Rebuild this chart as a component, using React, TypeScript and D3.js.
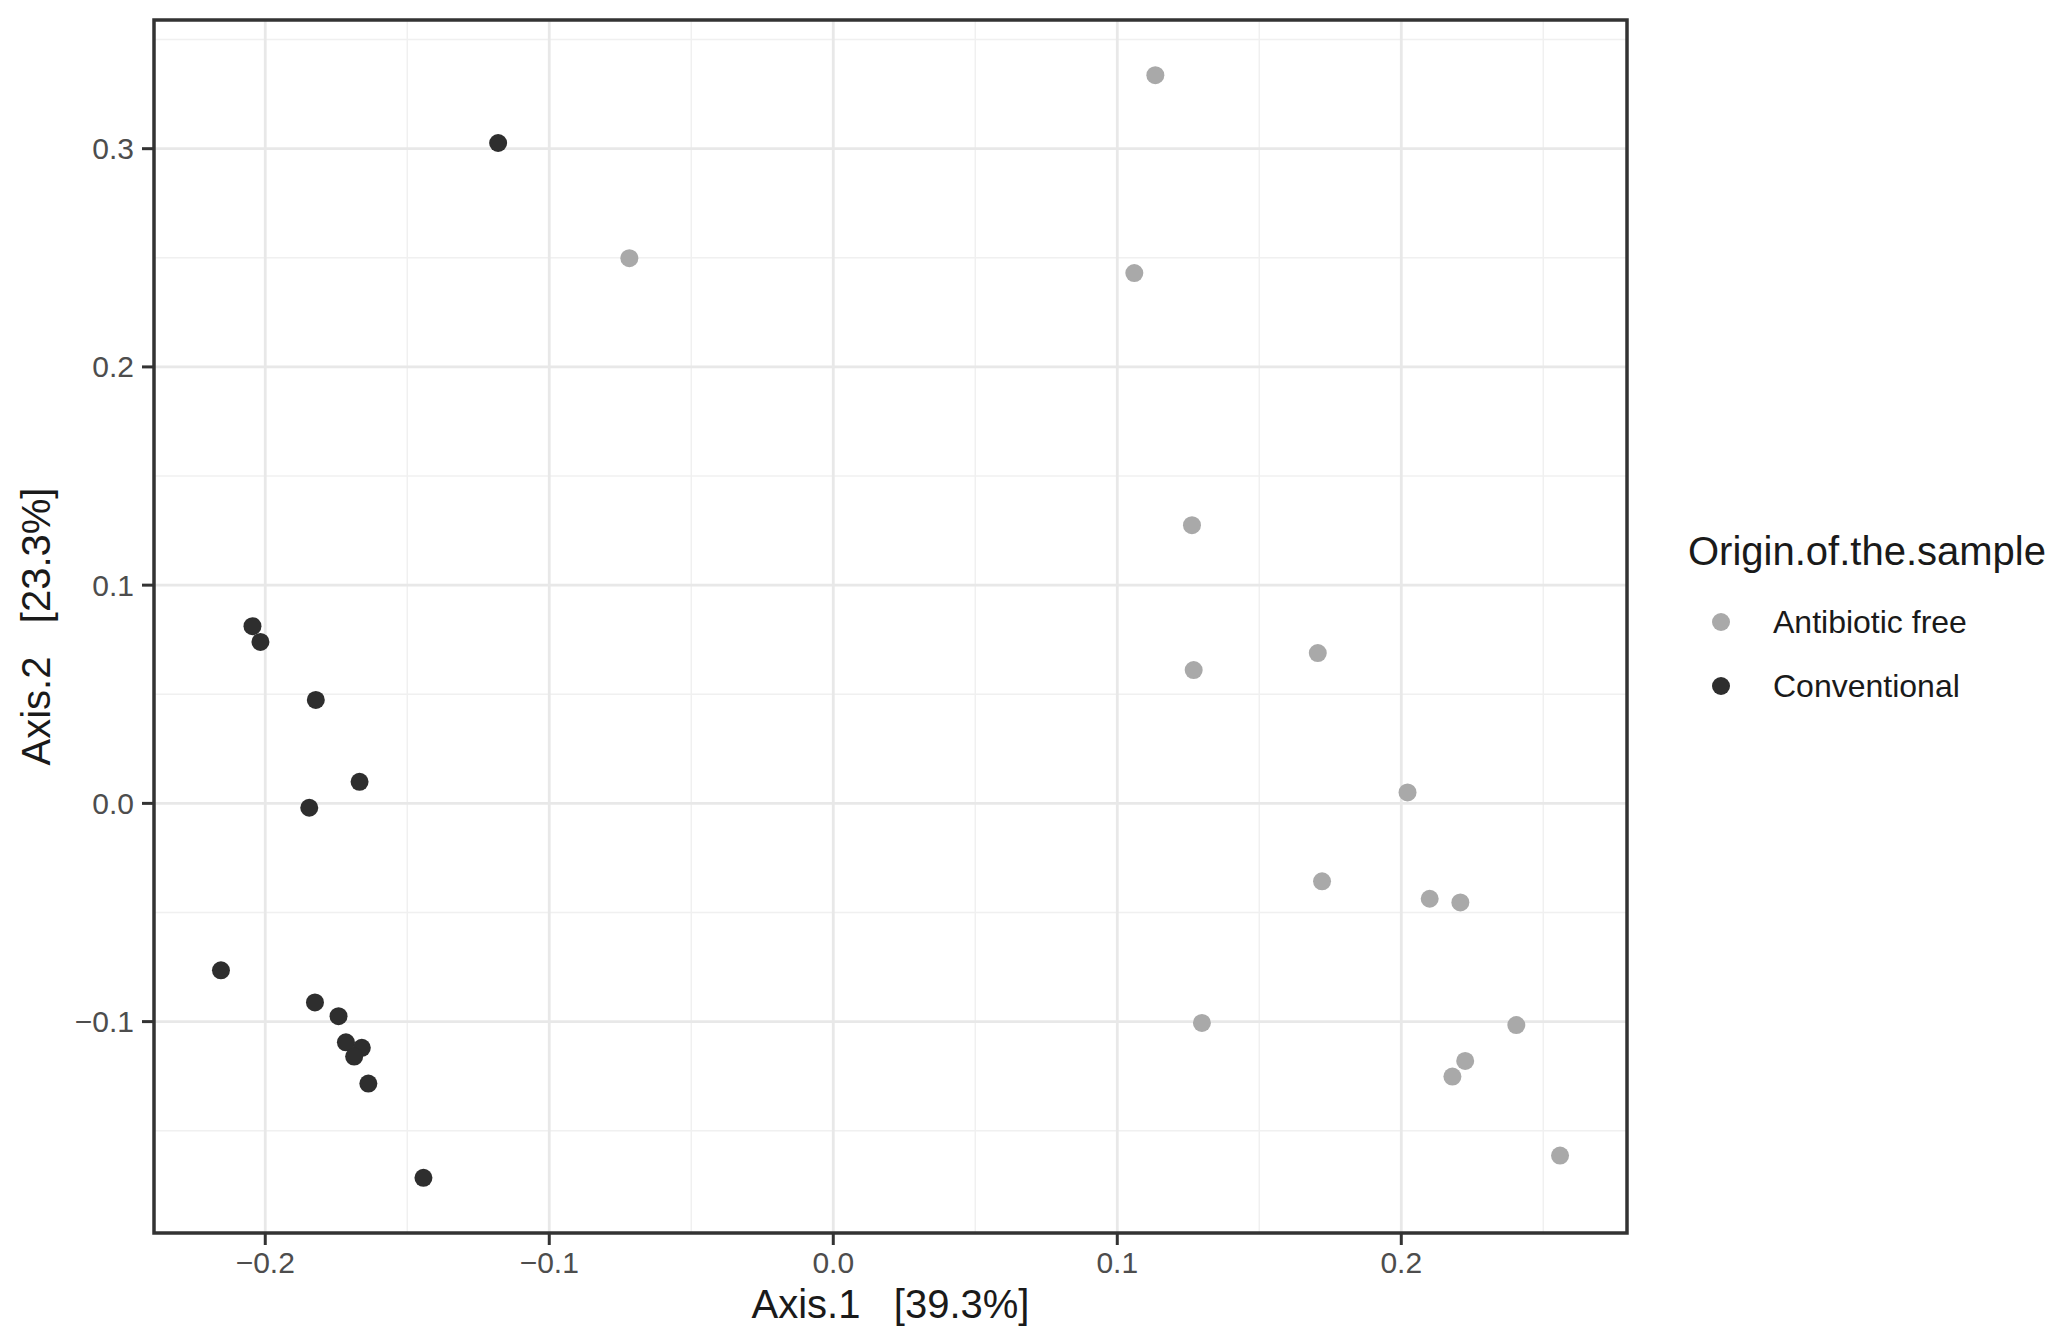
import React from 'react';
import * as d3 from 'd3';

// PCoA coordinates
const freeX = [0.1134, -0.0718, 0.106, 0.1263, 0.1269, 0.1706, 0.2022, 0.1721, 0.21, 0.2208, 0.1298, 0.2405, 0.2225, 0.218, 0.2559];
const freeY = [0.3337, 0.2498, 0.243, 0.1275, 0.0611, 0.0689, 0.005, -0.0357, -0.0437, -0.0454, -0.1006, -0.1016, -0.118, -0.1252, -0.1614];
const convX = [-0.118, -0.2045, -0.2017, -0.1822, -0.1668, -0.1845, -0.2156, -0.1825, -0.1742, -0.1716, -0.166, -0.1687, -0.1637, -0.1443];
const convY = [0.3026, 0.0812, 0.074, 0.0474, 0.0099, -0.002, -0.0765, -0.0912, -0.0975, -0.1095, -0.112, -0.116, -0.1284, -0.1716];

const groups = ['Antibiotic free', 'Conventional'];
const groupColors = ['#a9a9a9', '#2e2e2e'];
const xTicks = [-0.2, -0.1, 0.0, 0.1, 0.2];
const yTicks = [-0.1, 0.0, 0.1, 0.2, 0.3];
const xMinor = [-0.15, -0.05, 0.05, 0.15, 0.25];
const yMinor = [-0.15, -0.05, 0.05, 0.15, 0.25, 0.35];

const xTitle = 'Axis.1   [39.3%]';
const yTitle = 'Axis.2   [23.3%]';
const legendTitle = 'Origin.of.the.sample';

function expand(vals: number[]) {
  const [lo, hi] = d3.extent(vals) as [number, number];
  const pad = (hi - lo) * 0.05;
  return [lo - pad, hi + pad];
}

export default function App() {
  const W = 2062, H = 1342;
  const left = 154, right = 1627, top = 20, bottom = 1233;
  const font = '"Liberation Sans", Arial, sans-serif';

  const x = d3.scaleLinear().domain(expand(freeX.concat(convX))).range([left, right]);
  const y = d3.scaleLinear().domain(expand(freeY.concat(convY))).range([bottom, top]);
  const fmt = d3.format('.1f');

  const points = [
    ...freeX.map((v, i) => ({ x: v, y: freeY[i], g: 0 })),
    ...convX.map((v, i) => ({ x: v, y: convY[i], g: 1 })),
  ];

  return (
    <div style={{ position: 'absolute', left: 0, top: 0 }}>
      <svg width={W} height={H} style={{ display: 'block', background: '#fff' }} fontFamily={font}>
        <rect x={left} y={top} width={right - left} height={bottom - top} fill="#fff" />
        {xMinor.filter(v => x(v) > left && x(v) < right).map(v => (
          <line key={'xm' + v} x1={x(v)} x2={x(v)} y1={top} y2={bottom} stroke="#f0f0f0" strokeWidth={1.5} />
        ))}
        {yMinor.filter(v => y(v) > top && y(v) < bottom).map(v => (
          <line key={'ym' + v} x1={left} x2={right} y1={y(v)} y2={y(v)} stroke="#f0f0f0" strokeWidth={1.5} />
        ))}
        {xTicks.map(v => (
          <line key={'xg' + v} x1={x(v)} x2={x(v)} y1={top} y2={bottom} stroke="#e8e8e8" strokeWidth={2.8} />
        ))}
        {yTicks.map(v => (
          <line key={'yg' + v} x1={left} x2={right} y1={y(v)} y2={y(v)} stroke="#e8e8e8" strokeWidth={2.8} />
        ))}
        {points.map((p, i) => (
          <circle key={i} cx={x(p.x)} cy={y(p.y)} r={9} fill={groupColors[p.g]} />
        ))}
        <rect x={left} y={top} width={right - left} height={bottom - top} fill="none" stroke="#333" strokeWidth={3.5} />

        {xTicks.map(v => (
          <g key={'xt' + v}>
            <line x1={x(v)} x2={x(v)} y1={bottom} y2={bottom + 12} stroke="#333" strokeWidth={3} />
            <text x={x(v)} y={bottom + 40} textAnchor="middle" fontSize={30} fill="#4d4d4d">{fmt(v)}</text>
          </g>
        ))}
        {yTicks.map(v => (
          <g key={'yt' + v}>
            <line x1={left - 12} x2={left} y1={y(v)} y2={y(v)} stroke="#333" strokeWidth={3} />
            <text x={left - 20} y={y(v)} dy="0.35em" textAnchor="end" fontSize={30} fill="#4d4d4d">{fmt(v)}</text>
          </g>
        ))}

        <text x={(left + right) / 2} y={1318} textAnchor="middle" fontSize={40} fill="#1a1a1a" style={{ whiteSpace: 'pre' }}>{xTitle}</text>
        <text transform={`translate(50,${(top + bottom) / 2}) rotate(-90)`} textAnchor="middle" fontSize={40} fill="#1a1a1a" style={{ whiteSpace: 'pre' }}>{yTitle}</text>

        <text x={1688} y={565} fontSize={40} fill="#1a1a1a">{legendTitle}</text>
        {groups.map((g, i) => (
          <g key={g} transform={`translate(0,${622 + i * 64})`}>
            <circle cx={1721} cy={0} r={9} fill={groupColors[i]} />
            <text x={1773} y={0} dy="0.35em" fontSize={32} fill="#1a1a1a">{g}</text>
          </g>
        ))}
      </svg>
    </div>
  );
}
